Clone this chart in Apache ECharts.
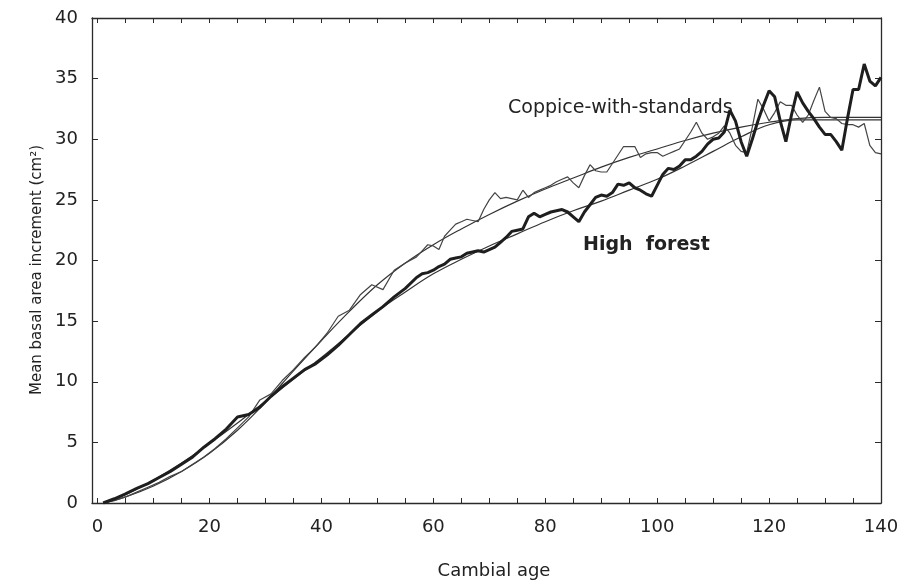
<!DOCTYPE html>
<html><head><meta charset="utf-8">
<script src="https://cdn.jsdelivr.net/npm/echarts@6/dist/echarts.min.js"></script>
<style>html,body{margin:0;padding:0;background:#fff}#c{width:905px;height:581px}</style>
</head><body><div id="c"></div>
<script>
// ---- data ----
const xTickLabels = [0, 20, 40, 60, 80, 100, 120, 140];
const yTickLabels = [0, 5, 10, 15, 20, 25, 30, 35, 40];

// High forest, raw means (thick line)
const hfAge = [1,3,5,7,9,11,13,15,17,19,21,23,25,27,29,31,33,35,37,39,41,43,45,47,49,51,53,55,57,
  58,59,60,61,62,63,64,65,66,67,68,69,70,71,72,73,74,75,76,77,78,79,80,81,82,83,84,85,86,87,88,89,90,
  91,92,93,94,95,96,97,98,99,100,101,102,103,104,105,106,107,108,109,110,111,112,113,114,115,116,117,118,119,120,
  121,122,123,124,125,126,127,128,129,130,131,132,133,134,135,136,137,138,139,140];
const hfVal = [0,0.35,0.75,1.2,1.6,2.1,2.6,3.2,3.8,4.6,5.3,6.1,7.1,7.3,7.9,8.8,9.6,10.3,11.0,11.5,12.2,13.0,13.9,14.8,15.5,16.2,17.0,17.7,18.6,
  18.9,19.0,19.2,19.5,19.7,20.1,20.2,20.3,20.6,20.7,20.8,20.7,20.9,21.1,21.5,21.9,22.4,22.5,22.6,23.6,23.9,23.6,23.8,24.0,24.1,24.2,24.0,23.6,23.2,24.0,24.6,25.2,25.4,
  25.3,25.6,26.3,26.2,26.4,26.0,25.8,25.5,25.3,26.2,27.1,27.6,27.5,27.8,28.3,28.3,28.6,29.0,29.6,30.0,30.1,30.6,32.4,31.5,29.8,28.6,30.0,31.5,32.8,34.0,
  33.5,31.5,29.8,32.0,33.9,33.0,32.3,31.7,31.0,30.4,30.4,29.8,29.1,31.7,34.1,34.1,36.2,34.8,34.4,35.1];

// Coppice-with-standards, raw means (thin line)
const cwsAge = hfAge;
const cwsVal = [0,0.2,0.5,0.9,1.3,1.7,2.2,2.6,3.2,3.8,4.5,5.3,6.2,7.1,8.5,9.0,10.1,11.0,12.0,12.9,14.0,15.4,15.9,17.2,18.0,17.6,19.2,19.8,20.3,
  20.8,21.3,21.2,20.9,22.0,22.5,23.0,23.2,23.4,23.3,23.2,24.2,25.0,25.6,25.1,25.2,25.1,25.0,25.8,25.2,25.6,25.8,26.0,26.2,26.5,26.7,26.9,26.4,26.0,27.0,27.9,27.4,27.3,
  27.3,28.0,28.7,29.4,29.4,29.4,28.5,28.8,28.9,28.9,28.6,28.8,29.0,29.2,29.9,30.6,31.4,30.5,30.0,30.2,30.5,31.1,30.5,29.5,29.0,28.9,31.0,33.3,32.5,31.5,
  32.2,33.1,32.8,32.8,32.0,31.4,32.0,33.2,34.3,32.3,31.8,31.7,31.3,31.2,31.2,31.0,31.3,29.5,28.9,28.8];

// fitted curves
const fitAge = [1,5,10,15,20,25,30,35,40,45,50,55,60,65,70,75,80,85,90,95,100,105,110,115,120,125,130,135,140];
const hfFit  = [0,0.7,1.9,3.3,4.9,6.6,8.4,10.2,12.0,13.9,15.8,17.4,18.9,20.1,21.2,22.2,23.2,24.1,24.9,25.8,26.7,27.8,29.0,30.2,31.2,31.6,31.6,31.6,31.6];
const cwsFit = [0,0.5,1.4,2.6,4.1,6.0,8.3,10.9,13.4,15.8,18.0,19.8,21.3,22.6,23.8,24.9,25.9,26.8,27.7,28.5,29.2,29.9,30.5,31.0,31.4,31.7,31.8,31.8,31.8];

const xTicks = [0,5,10,15,20,25,30,35,40,45,50,55,60,65,70,75,80,85,90,95,100,105,110,115,120,125,130,135,140];

function pairs(a, b) { return a.map((v, i) => [v, b[i]]); }

const FONT = '"DejaVu Sans", Verdana, sans-serif';
const ink = '#2a2a2a';

const chart = echarts.init(document.getElementById('c'), null, {renderer: 'canvas'});
const lineAxis = {show: true, onZero: false, lineStyle: {color: ink, width: 1.3}};
chart.setOption({
  animation: false,
  backgroundColor: '#fff',
  grid: {left: 92, right: 24, top: 18, bottom: 78, containLabel: false},
  xAxis: [
    {type: 'value', min: -1, max: 140, position: 'bottom',
     axisLine: lineAxis, splitLine: {show: false},
     axisTick: {show: true, inside: true, length: 5, customValues: xTicks, lineStyle: {color: ink}},
     axisLabel: {customValues: xTickLabels, color: '#222', fontSize: 18, fontFamily: FONT, margin: 15}},
    {type: 'value', min: -1, max: 140, position: 'top',
     axisLine: lineAxis, splitLine: {show: false},
     axisTick: {show: true, inside: true, length: 5, customValues: xTicks, lineStyle: {color: ink}},
     axisLabel: {show: false}}
  ],
  yAxis: [
    {type: 'value', min: 0, max: 40, interval: 5, position: 'left',
     axisLine: lineAxis, splitLine: {show: false},
     axisTick: {show: true, inside: true, length: 6, lineStyle: {color: ink}},
     axisLabel: {customValues: yTickLabels, color: '#222', fontSize: 18, fontFamily: FONT, margin: 14}},
    {type: 'value', min: 0, max: 40, interval: 5, position: 'right',
     axisLine: lineAxis, splitLine: {show: false},
     axisTick: {show: true, inside: true, length: 6, lineStyle: {color: ink}},
     axisLabel: {show: false}}
  ],
  series: [
    {name: 'Coppice-with-standards fit', type: 'line', smooth: 0.4, symbol: 'none',
     data: pairs(fitAge, cwsFit), lineStyle: {color: '#333', width: 1.2}, z: 2},
    {name: 'High forest fit', type: 'line', smooth: 0.4, symbol: 'none',
     data: pairs(fitAge, hfFit), lineStyle: {color: '#333', width: 1.2}, z: 2},
    {name: 'Coppice-with-standards', type: 'line', symbol: 'none',
     data: pairs(cwsAge, cwsVal), lineStyle: {color: '#444', width: 1.2}, z: 3},
    {name: 'High forest', type: 'line', symbol: 'none',
     data: pairs(hfAge, hfVal), lineStyle: {color: '#1e1e1e', width: 3}, z: 4}
  ],
  graphic: [
    {type: 'text', x: 508, y: 108, style: {text: 'Coppice-with-standards', font: '19px ' + FONT, fill: '#222', verticalAlign: 'middle'}},
    {type: 'text', x: 583, y: 245, style: {text: 'High  forest', font: 'bold 19px ' + FONT, fill: '#222', verticalAlign: 'middle'}},
    {type: 'text', x: 494, y: 571, style: {text: 'Cambial age', font: '18px ' + FONT, fill: '#222', align: 'center', verticalAlign: 'middle'}},
    {type: 'text', x: 37, y: 270, rotation: Math.PI / 2,
     style: {text: 'Mean basal area increment (cm²)', font: '15px ' + FONT, fill: '#222', align: 'center', verticalAlign: 'middle'}}
  ]
});
</script></body></html>
